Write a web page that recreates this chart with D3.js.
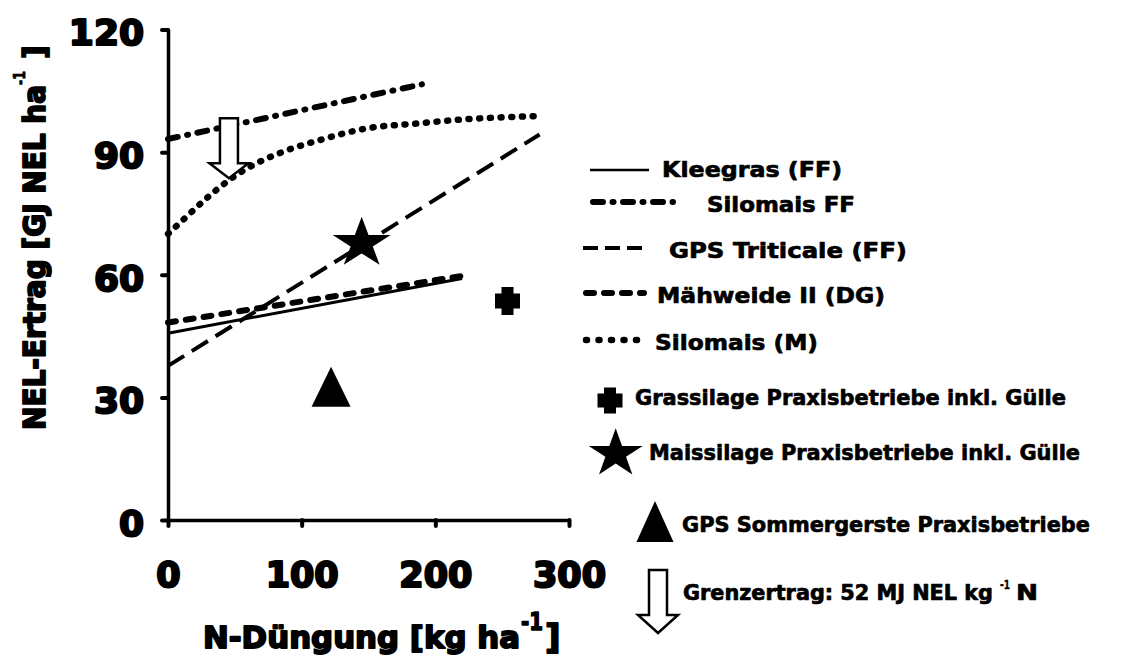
<!DOCTYPE html>
<html>
<head>
<meta charset="utf-8">
<script src="https://cdn.jsdelivr.net/npm/d3@7"></script>
<style>
  body { margin: 0; background: #fff; }
  svg { display: block; }
  text { font-family: "DejaVu Sans", sans-serif; font-weight: bold; fill: #000; stroke-linejoin: round; }
</style>
</head>
<body>
<svg id="chart" width="1144" height="657"></svg>
<script>
// Axis ticks
const xTicks = [0, 100, 200, 300];
const yTicks = [0, 30, 60, 90, 120];

// Response curves: [N-Düngung kg/ha, NEL-Ertrag GJ/ha]
const kleegras     = [[0, 45.7], [220, 59.1]];
const silomaisFF   = [[0, 93.2], [190, 106.6]];
const gpsTriticale = [[0, 37.7], [278, 94.3]];
const maehweide    = [[0, 48.3], [220, 59.7]];
const silomaisM    = [[0, 70.0], [13.8, 74.2], [30.2, 79.1], [45.9, 83.2], [61.3, 86.4],
                      [86.3, 90.1], [116.2, 93.2], [148.6, 95.8], [186, 97.0], [221, 98.0], [274.6, 98.8]];

// Farm survey points
const grassilage      = [254, 53.6];
const maissilage      = [144.9, 67.7];
const gpsSommergerste = [122, 32.6];
// Marginal-yield arrow: x, top value, tip value
const grenzertrag     = [45.6, 98.3, 83.6];

const svg = d3.select("#chart");
const x = d3.scaleLinear().domain([0, 300]).range([168, 569]);
const y = d3.scaleLinear().domain([0, 120]).range([520, 29.5]);

// ---- line series ----
const series = [
  { name: "Kleegras (FF)",      data: kleegras,     width: 3,   dash: null,            cap: "butt",  sample: null,          lx: 662, ly: 170, ty: 177, tw: 180, s0: 590, s1: 649 },
  { name: "Silomais FF",        data: silomaisFF,   width: 6,   dash: "10 9.5 1 9.5",  cap: "round", sample: "10 9.5 1 9.5", lx: 707, ly: 202, ty: 212, tw: 148, s0: 593, s1: 673 },
  { name: "GPS Triticale (FF)", data: gpsTriticale, width: 4,   dash: "19 9",          cap: "butt",  sample: "15 7",        lx: 669, ly: 248, ty: 258, tw: 238, s0: 583, s1: 643 },
  { name: "Mähweide II (DG)",   data: maehweide,    width: 6,   dash: "8 10",          cap: "round", sample: "8 10",        lx: 657, ly: 293, ty: 303, tw: 228, s0: 586, s1: 644 },
  { name: "Silomais (M)",       data: silomaisM,    width: 6.5, dash: "1 9.7",         cap: "round", sample: "1 11.5",      lx: 655, ly: 340, ty: 350, tw: 163, s0: 586, s1: 648 }
];

const line = d3.line().x(d => x(d[0])).y(d => y(d[1]));
const curve = d3.line().x(d => x(d[0])).y(d => y(d[1])).curve(d3.curveMonotoneX);

series.forEach(s => {
  svg.append("path")
    .attr("d", (s.data.length > 2 ? curve : line)(s.data))
    .attr("fill", "none")
    .attr("stroke", "#000")
    .attr("stroke-width", s.width)
    .attr("stroke-linecap", s.cap)
    .attr("stroke-dasharray", s.dash);
});

// ---- axes ----
const yAxis = svg.append("g")
  .attr("transform", `translate(${x(0)},0)`)
  .call(d3.axisLeft(y).tickValues(yTicks).tickSize(6).tickSizeOuter(0).tickPadding(18));
const xAxis = svg.append("g")
  .attr("transform", `translate(0,${y(0)})`)
  .call(d3.axisBottom(x).tickValues(xTicks).tickSize(6).tickSizeOuter(0));

[yAxis, xAxis].forEach(g => {
  g.attr("font-size", null).attr("font-family", null);
  g.select(".domain").attr("stroke", "#000").attr("stroke-width", 3.5).attr("stroke-linecap", "round");
  g.selectAll(".tick line").attr("stroke", "#000").attr("stroke-width", 4).attr("stroke-linecap", "round");
  g.selectAll(".tick text")
    .style("font-family", "'DejaVu Sans', sans-serif")
    .style("font-weight", "bold")
    .attr("fill", "#000").attr("stroke", "#000").attr("stroke-width", 2.2);
});
yAxis.selectAll(".tick text").style("font-size", "36px").attr("dy", "0.43em");
xAxis.selectAll(".tick text").style("font-size", "35px").attr("y", 67).attr("dy", 0);

// ---- markers ----
function crossPath(cx, cy, w, h, bw, bh) {
  return `M${cx - bw / 2},${cy - h / 2}H${cx + bw / 2}V${cy - bh / 2}H${cx + w / 2}V${cy + bh / 2}` +
         `H${cx + bw / 2}V${cy + h / 2}H${cx - bw / 2}V${cy + bh / 2}H${cx - w / 2}V${cy - bh / 2}H${cx - bw / 2}Z`;
}
function trianglePath(cx, cy, w, h) {
  return `M${cx},${cy - h / 2}L${cx + w / 2},${cy + h / 2}L${cx - w / 2},${cy + h / 2}Z`;
}
function arrowPath(cx, yTop, yTip, shaftW, headW, headH) {
  const yh = yTip - headH;
  return `M${cx - shaftW / 2},${yTop}H${cx + shaftW / 2}V${yh}H${cx + headW / 2}L${cx},${yTip}` +
         `L${cx - headW / 2},${yh}H${cx - shaftW / 2}Z`;
}
const star = d3.symbol().type(d3.symbolStar).size(1044);

// Grassilage
svg.append("path").attr("d", crossPath(x(grassilage[0]), y(grassilage[1]), 25, 28, 12, 15)).attr("fill", "#000");
// Maissilage
svg.append("path").attr("d", star())
  .attr("transform", `translate(${x(maissilage[0])},${y(maissilage[1])}) scale(1,0.87)`).attr("fill", "#000");
// GPS Sommergerste
svg.append("path").attr("d", trianglePath(x(gpsSommergerste[0]), y(gpsSommergerste[1]), 39, 40)).attr("fill", "#000");
// Grenzertrag arrow
svg.append("path")
  .attr("d", arrowPath(x(grenzertrag[0]), y(grenzertrag[1]), y(grenzertrag[2]), 18, 39, 15))
  .attr("fill", "#fff").attr("stroke", "#000").attr("stroke-width", 2.5).attr("stroke-linejoin", "miter");

// ---- legend ----
function label(txt, lx, ly, size, width, weight) {
  const t = svg.append("text")
    .attr("x", lx).attr("y", ly)
    .style("font-size", size + "px")
    .attr("stroke", "#000").attr("stroke-width", weight == null ? 0.7 : weight)
    .text(txt);
  if (width) t.attr("textLength", width).attr("lengthAdjust", "spacingAndGlyphs");
  return t;
}

series.forEach(s => {
  svg.append("line")
    .attr("x1", s.s0).attr("x2", s.s1).attr("y1", s.ly).attr("y2", s.ly)
    .attr("stroke", "#000")
    .attr("stroke-width", s.name === "Kleegras (FF)" ? 2.5 : s.width)
    .attr("stroke-linecap", s.cap)
    .attr("stroke-dasharray", s.sample);
  label(s.name, s.lx, s.ty, 22, s.tw);
});

svg.append("path").attr("d", crossPath(610, 400.5, 25, 26, 12, 14)).attr("fill", "#000");
label("Grassilage Praxisbetriebe inkl. Gülle", 635, 405, 22, 431);

svg.append("path").attr("d", star()).attr("transform", "translate(615.7,453.8) scale(0.93,0.84)").attr("fill", "#000");
label("Maissilage Praxisbetriebe inkl. Gülle", 649, 460, 22, 431);

svg.append("path").attr("d", trianglePath(655, 521.5, 37, 41)).attr("fill", "#000");
label("GPS Sommergerste Praxisbetriebe", 682, 532, 22, 408);

svg.append("path").attr("d", arrowPath(658, 570, 633, 18, 40, 18))
  .attr("fill", "#fff").attr("stroke", "#000").attr("stroke-width", 2.5);
label("Grenzertrag: 52 MJ NEL kg", 683, 600, 20.5, 310);
label("-1", 1000, 589, 12, 10, 0.4);
label("N", 1016, 600, 21, 22);

// ---- axis titles ----
label("N-Düngung [kg ha", 203, 648, 30, 317, 1.8);
label("-1", 521, 630, 24, 22, 1.5);
label("]", 545, 649, 34, null, 1.8);

function vlabel(txt, bx, by, size, width, weight) {
  const t = svg.append("text")
    .attr("transform", `translate(${bx},${by}) rotate(-90)`)
    .style("font-size", size + "px")
    .attr("stroke", "#000").attr("stroke-width", weight)
    .text(txt);
  if (width) t.attr("textLength", width).attr("lengthAdjust", "spacingAndGlyphs");
  return t;
}
vlabel("NEL-Ertrag [GJ NEL ha", 45, 430, 30, 345, 1.8);
vlabel("-1", 25, 85, 16, 14, 0.8);
vlabel("]", 45, 59, 30, null, 1.8);
</script>
</body>
</html>
